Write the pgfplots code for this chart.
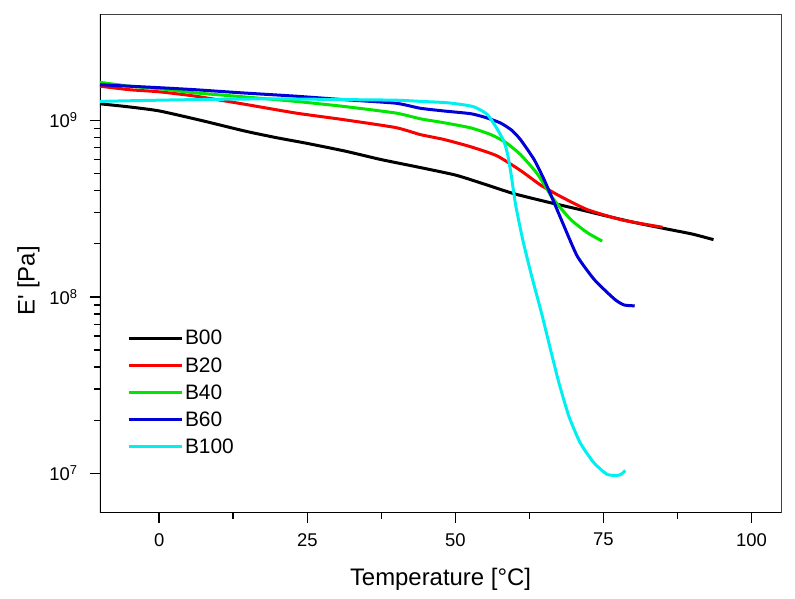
\documentclass[border=0pt]{standalone}
\usepackage{fontspec}
\setmainfont{Liberation Sans}
\newfontfamily\plainfont{Liberation Sans}
\usepackage{pgfplots}
\pgfplotsset{compat=1.18}

\definecolor{cB00}{RGB}{0,0,0}
\definecolor{cB20}{RGB}{250,0,0}
\definecolor{cB40}{RGB}{0,230,0}
\definecolor{cB60}{RGB}{0,0,215}
\definecolor{cB100}{RGB}{0,240,240}

\begin{document}
\begin{tikzpicture}
\useasboundingbox (-100bp,-86.3bp) rectangle (695bp,512.7bp);
\begin{axis}[
    scale only axis,
    width=681bp, height=498.7bp,
    ymode=log,
    xmin=-10, xmax=105,
    ymin=6e6, ymax=4e9,
    xtick={0,25,50,75,100},
    minor x tick num=1,
    ytick={1e7,1e8,1e9},
    yticklabels={10\textsuperscript{7},10\textsuperscript{8},10\textsuperscript{9}},
    tick align=outside,
    xtick pos=left, ytick pos=left,
    major tick length=10bp, minor tick length=6bp,
    every tick/.style={black, line width=1.5bp},
    axis line style={line width=0.8bp, black!75},
    /pgf/number format/assume math mode=true,
    tick label style={font=\fontsize{18.5}{22}\selectfont},
    xticklabel shift=7bp,
    yticklabel shift=9bp,
    xlabel={Temperature [°C]},
    xlabel style={at={(axis description cs:0.5,-0.1464)}, anchor=base, font=\fontsize{24}{28}\selectfont},
    ylabel={\plainfont E' [Pa]},
    ylabel style={at={(axis description cs:-0.105,0.4646)}, anchor=center, font=\fontsize{24}{28}\selectfont},
    legend cell align=left,
    legend style={draw=none, fill=none, at={(axis description cs:0.035,0.374)}, anchor=north west,
        font=\fontsize{21}{25}\selectfont, row sep=7bp},
    legend image code/.code={\draw[#1, line width=3bp] (0bp,0bp) -- (53bp,0bp);},
    every axis plot/.append style={line width=3bp, line join=round, smooth, tension=0.35},
]
\draw[line width=2bp] (rel axis cs:0,1) -- (rel axis cs:0,0) -- (rel axis cs:1,0);

\addplot[cB00] coordinates {
(-10,1.24e9) (-5,1.19e9) (0,1.13e9) (7,1.0e9) (14.6,8.67e8) (20,7.95e8) (25,7.4e8)
(31.5,6.68e8) (37.4,6.0e8) (44.1,5.4e8) (50,4.9e8) (54.2,4.43e8) (59.8,3.85e8)
(65.5,3.45e8) (71.1,3.12e8) (75,2.9e8) (80,2.65e8) (85,2.45e8) (90,2.27e8) (93.6,2.11e8)
};
\addlegendentry{B00}

\addplot[cB20] coordinates {
(-10,1.56e9) (-5,1.49e9) (0,1.45e9) (6.1,1.37e9) (14,1.24e9) (23,1.10e9) (31,1.01e9)
(39.9,9.1e8) (44.1,8.3e8) (48,7.8e8) (52.5,7.1e8) (57,6.3e8) (61,5.2e8) (64.4,4.3e8)
(67.8,3.7e8) (72.3,3.12e8) (77.9,2.74e8) (82,2.58e8) (85,2.48e8)
};
\addlegendentry{B20}

\addplot[cB40] coordinates {
(-10,1.64e9) (-5,1.56e9) (0,1.51e9) (6.1,1.43e9) (14,1.36e9) (23,1.28e9) (31,1.2e9)
(39.9,1.1e9) (44.1,1.02e9) (48,9.7e8) (52.6,9.06e8) (56,8.3e8) (58.5,7.5e8) (61,6.4e8)
(63.9,4.95e8) (66.5,3.6e8) (69.5,2.74e8) (72.3,2.31e8) (74.8,2.07e8)
};
\addlegendentry{B40}

\addplot[cB60] coordinates {
(-10,1.59e9) (0,1.53e9) (6.1,1.49e9) (14,1.43e9) (23,1.37e9) (31,1.31e9) (39.9,1.25e9)
(44.1,1.17e9) (48,1.13e9) (52.6,1.09e9) (55,1.04e9) (57.6,9.67e8) (59.5,8.8e8) (61,7.78e8)
(63.3,6.0e8) (65,4.61e8) (66.7,3.41e8) (68.4,2.5e8) (70.6,1.7e8) (73.5,1.25e8)
(76.9,9.7e7) (78.5,9.0e7) (80.3,8.9e7)
};
\addlegendentry{B60}

\addplot[cB100] coordinates {
(-10,1.28e9) (0,1.30e9) (6.1,1.31e9) (15,1.32e9) (23,1.32e9) (31,1.31e9) (39.9,1.30e9)
(44.1,1.28e9) (48.3,1.26e9) (51,1.23e9) (53.2,1.19e9) (55.4,1.08e9) (57.1,8.9e8)
(58.2,7.6e8) (58.8,6.5e8) (59.4,5.0e8) (60.2,3.3e8) (61.4,2.1e8) (62.8,1.35e8)
(64.6,8.0e7) (66.1,5.0e7) (67.5,3.26e7) (69.2,2.1e7) (71.1,1.49e7) (73.4,1.15e7)
(75.6,9.9e6) (77.3,9.75e6) (78,9.9e6) (78.7,1.04e7)
};
\addlegendentry{B100}
\end{axis}
\end{tikzpicture}
\end{document}
